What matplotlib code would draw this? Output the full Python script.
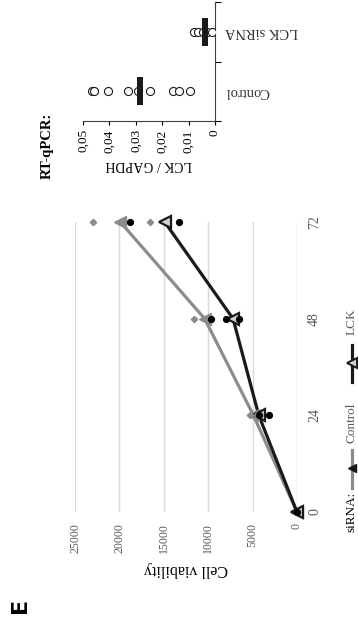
import numpy as np
import matplotlib
matplotlib.use("Agg")
import matplotlib.pyplot as plt
from matplotlib.lines import Line2D

plt.rcParams['font.family'] = ['Liberation Serif', 'DejaVu Serif']

# cell viability time course (hours)
times = [0, 24, 48, 72]
control_mean = [0, 4900, 10400, 19900]
lck_mean = [0, 4300, 7200, 14900]

# individual replicates
ctrl_rep_time = [0, 24, 24, 48, 48, 72, 72, 72]
ctrl_rep_val = [0, 5300, 4500, 11600, 10200, 23000, 19800, 16500]
lck_rep_time = [0, 24, 24, 48, 48, 48, 72, 72]
lck_rep_val = [0, 4300, 3200, 9700, 8000, 6550, 18850, 13300]

viab_ticks = [0, 5000, 10000, 15000, 20000, 25000]

# RT-qPCR, LCK / GAPDH
qpcr_groups = ['Control', 'LCK siRNA']
qpcr_control = [0.0466, 0.0458, 0.0405, 0.0330, 0.0292, 0.0246, 0.0159, 0.0135, 0.0095]
qpcr_lck = [0.0080, 0.0064, 0.0045, 0.0030, 0.0011]
qpcr_bar = [0.0284, 0.0038]
qpcr_ticks = [0, 0.01, 0.02, 0.03, 0.04, 0.05]
qpcr_ticklabels = ['0', '0,01', '0,02', '0,03', '0,04', '0,05']

GRAY = '#8c8c8c'
DARK = '#1a1a1a'
TXT = '#595959'

fig = plt.figure(figsize=(3.58, 6.26), dpi=100)

# --- cell viability panel (drawn turned on its side) ---
ax = fig.add_axes([0.2095, 0.1821, 0.620, 0.4633])
ax.plot(control_mean, times, color=GRAY, lw=2.3, zorder=3, clip_on=False)
ax.plot(lck_mean, times, color=DARK, lw=2.3, zorder=3, clip_on=False)
ax.plot(control_mean, times, ls='none', marker='<', ms=8, mfc=GRAY, mec=GRAY,
        zorder=4, clip_on=False)
ax.plot(lck_mean, times, ls='none', marker='<', ms=8, mfc='#d0d0d0', mec=DARK,
        mew=1.6, zorder=4, clip_on=False)
ax.plot(ctrl_rep_val, ctrl_rep_time, ls='none', marker='D', ms=3.2, color=GRAY,
        zorder=5, clip_on=False)
ax.plot(lck_rep_val, lck_rep_time, ls='none', marker='o', ms=4.2, color='black',
        zorder=5, clip_on=False)

ax.set_xlim(25000, 0)
ax.set_ylim(0, 72)
ax.set_xticks(viab_ticks)
ax.set_xticklabels([str(v) for v in viab_ticks], rotation=90, fontsize=8.5,
                   color=TXT, ha='center', va='top')
ax.set_yticks(times)
ax.set_yticklabels([str(t) for t in times], rotation=90, fontsize=10,
                   color=TXT, va='center', ha='left')
ax.yaxis.tick_right()
ax.tick_params(axis='both', length=0)
ax.tick_params(axis='x', pad=8)
ax.tick_params(axis='y', pad=8)
ax.xaxis.grid(True, color='#d9d9d9', lw=1)
ax.set_axisbelow(True)
for s in ax.spines.values():
    s.set_visible(False)
ax.set_xlabel('Cell viability', rotation=180, fontsize=11.5, labelpad=6)

# legend, laid out by hand along the right edge
fig.text(0.983, 0.182, 'siRNA:', rotation=90, fontsize=9.5, ha='center', va='center')
fig.add_artist(Line2D([0.983, 0.983], [0.2204, 0.2812], color=GRAY, lw=2.3,
                      transform=fig.transFigure))
fig.add_artist(Line2D([0.983], [0.2524], ls='none', marker='<', ms=6, mfc=DARK,
                      mec=DARK, transform=fig.transFigure))
fig.text(0.983, 0.324, 'Control', rotation=90, fontsize=9.5, color=TXT,
         ha='center', va='center')
fig.add_artist(Line2D([0.983, 0.983], [0.3898, 0.4489], color=DARK, lw=2.3,
                      transform=fig.transFigure))
fig.add_artist(Line2D([0.983], [0.42], ls='none', marker='<', ms=7, mfc='#d0d0d0',
                      mec=DARK, mew=1.4, transform=fig.transFigure))
fig.text(0.983, 0.4856, 'LCK', rotation=90, fontsize=9.5, color=TXT,
         ha='center', va='center')

fig.text(0.056, 0.0335, 'E', rotation=90, fontsize=16, fontweight='bold',
         family='DejaVu Sans', ha='center', va='center')

# --- RT-qPCR panel ---
bx = fig.add_axes([0.2318, 0.8067, 0.3687, 0.1901])
ypos = np.arange(len(qpcr_groups))
bx.plot(qpcr_control, np.full(len(qpcr_control), ypos[0]), ls='none', marker='o',
        ms=5.8, mfc='white', mec=DARK, mew=0.8, zorder=3)
bx.plot(qpcr_lck, np.full(len(qpcr_lck), ypos[1]), ls='none', marker='o',
        ms=5.8, mfc='white', mec=DARK, mew=0.8, zorder=3)
bar_w = 0.0022
bx.barh(ypos, np.full(len(qpcr_bar), bar_w), left=np.array(qpcr_bar) - bar_w / 2,
        height=0.47, color=DARK, zorder=4)

bx.set_xlim(0.05, 0)
bx.set_ylim(-0.5, 1.5)
bx.set_xticks(qpcr_ticks)
bx.set_xticklabels(qpcr_ticklabels, rotation=90, fontsize=9.5, ha='center', va='top')
bx.set_yticks([-0.5, 0.5, 1.5])
bx.set_yticklabels([])
bx.set_yticks(ypos, minor=True)
bx.set_yticklabels(qpcr_groups, minor=True, rotation=180, fontsize=10.5, color='#333333',
                   ha='left', va='center')
bx.yaxis.tick_right()
bx.yaxis.set_ticks_position('right')
bx.tick_params(axis='x', length=3, width=0.8, direction='out', pad=3)
bx.tick_params(axis='y', which='major', length=4, width=0.8, direction='out')
bx.tick_params(axis='y', which='minor', length=0, pad=7)
for side in ['top', 'left']:
    bx.spines[side].set_visible(False)
bx.spines['bottom'].set_color('#404040')
bx.spines['right'].set_color('#404040')
bx.set_xlabel('LCK / GAPDH', rotation=180, fontsize=10, labelpad=4)

fig.text(0.131, 0.767, 'RT-qPCR:', rotation=90, fontsize=10.5, fontweight='bold',
         ha='center', va='center')

fig.savefig('out.png', dpi=100)
